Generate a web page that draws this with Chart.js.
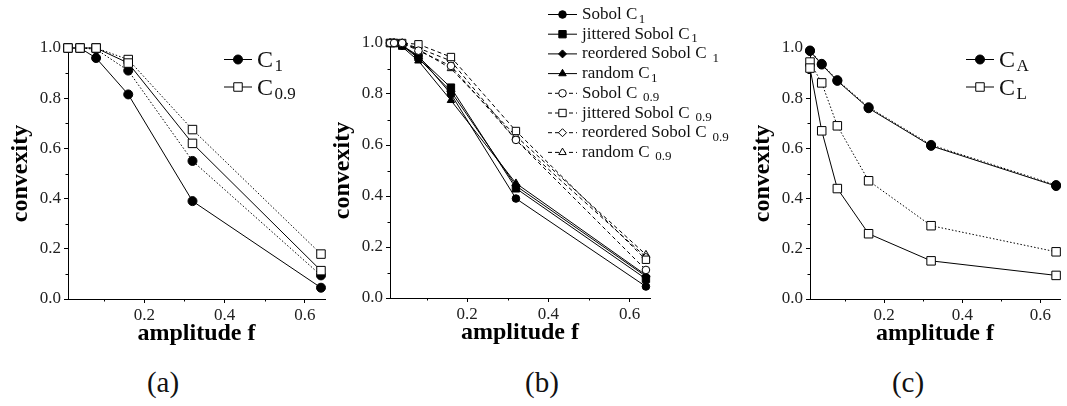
<!DOCTYPE html>
<html>
<head>
<meta charset="utf-8">
<script src="https://cdn.jsdelivr.net/npm/chart.js@4.4.0/dist/chart.umd.min.js"></script>
<style>
  body { margin: 0; background: #fff; }
  #wrap { position: relative; width: 1067px; height: 406px; overflow: hidden; background: #fff; }
  #wrap canvas { position: absolute; top: 0; }
  .tag { position: absolute; top: 364px; width: 80px; text-align: center; font-family: "Liberation Serif", serif; font-size: 29px; line-height: 36px; color: #111; }
</style>
</head>
<body>
<div id="wrap">
  <canvas id="chartA" width="360" height="350" style="left:0px"></canvas>
  <canvas id="chartB" width="420" height="350" style="left:320px"></canvas>
  <canvas id="chartC" width="327" height="350" style="left:740px"></canvas>
  <div class="tag" style="left:123px">(a)</div>
  <div class="tag" style="left:502px">(b)</div>
  <div class="tag" style="left:868px">(c)</div>
</div>
<script>
// amplitudes f
var fA = [0.01, 0.04, 0.08, 0.16, 0.32, 0.64];
var fB = [0.01, 0.02, 0.04, 0.08, 0.16, 0.32, 0.64];
var fC = [0.01, 0.04, 0.08, 0.16, 0.32, 0.64];

// (a) convexity, two runs (solid / dotted)
var aC1Solid = [1.0, 1.0, 0.96, 0.815, 0.39, 0.045];
var aC1Dotted = [1.0, 1.0, 0.995, 0.91, 0.55, 0.094];
var aC09Solid = [1.0, 1.0, 1.0, 0.94, 0.62, 0.113];
var aC09Dotted = [1.0, 1.0, 1.0, 0.954, 0.675, 0.179];

// (b) point sets
var bSobolC1 = [1.0, 1.0, 0.99, 0.95, 0.80, 0.39, 0.045];
var bJitterC1 = [1.0, 1.0, 0.99, 0.945, 0.825, 0.43, 0.075];
var bReordC1 = [1.0, 1.0, 0.99, 0.94, 0.81, 0.44, 0.085];
var bRandomC1 = [1.0, 1.0, 0.985, 0.93, 0.775, 0.45, 0.09];
var bSobolC09 = [1.0, 1.0, 1.0, 0.97, 0.91, 0.62, 0.11];
var bJitterC09 = [1.0, 1.0, 1.0, 0.995, 0.945, 0.655, 0.15];
var bReordC09 = [1.0, 1.0, 1.0, 0.98, 0.93, 0.62, 0.16];
var bRandomC09 = [1.0, 1.0, 1.0, 0.975, 0.90, 0.635, 0.17];

// (c)
var cCASolid = [0.988, 0.934, 0.869, 0.760, 0.610, 0.450];
var cCADotted = [0.99, 0.937, 0.872, 0.764, 0.614, 0.454];
var cCLSolid = [0.92, 0.67, 0.44, 0.26, 0.152, 0.094];
var cCLDotted = [0.944, 0.861, 0.69, 0.471, 0.292, 0.188];

var legendA = [["C", "1"], ["C", "0.9"]];
var legendB = [["Sobol C", "1"], ["jittered Sobol C", "1"], ["reordered Sobol C ", "1"], ["random C", "1"],
               ["Sobol C ", "0.9"], ["jittered Sobol C ", "0.9"], ["reordered Sobol C ", "0.9"], ["random C ", "0.9"]];
var legendC = [["C", "A"], ["C", "L"]];

var SERIF = "'Liberation Serif', 'Times New Roman', serif";
var DOT = [1.5, 2];
var DASH = [4, 3];

function pts(xs, ys) {
    return xs.map(function (x, i) { return { x: x, y: ys[i] }; });
}

function series(xs, ys, style, filled, r, dash) {
    return {
        data: pts(xs, ys),
        borderColor: "#000",
        borderWidth: 1,
        borderDash: dash || [],
        pointStyle: style,
        pointRadius: r,
        pointBorderWidth: 1,
        pointBorderColor: "#000",
        pointBackgroundColor: filled ? "#000" : "#fff",
        tension: 0,
        clip: false
    };
}

// minor ticks (0.1 steps) + custom legend with subscripts
var sketchPlugin = {
    id: "sketch",
    afterDraw: function (chart, args, opts) {
        var ctx = chart.ctx, xs = chart.scales.x, ys = chart.scales.y;
        ctx.save();
        ctx.strokeStyle = "#000";
        ctx.lineWidth = 1;
        ctx.beginPath();
        [0.1, 0.3, 0.5].forEach(function (v) {
            var px = Math.round(xs.getPixelForValue(v)) + 0.5;
            ctx.moveTo(px, xs.top); ctx.lineTo(px, xs.top + 2.5);
        });
        [0.1, 0.3, 0.5, 0.7, 0.9].forEach(function (v) {
            var py = Math.round(ys.getPixelForValue(v)) + 0.5;
            ctx.moveTo(ys.right, py); ctx.lineTo(ys.right - 2.5, py);
        });
        ctx.stroke();

        var L = opts.legend;
        L.items.forEach(function (it, i) {
            var y = L.y + i * L.row;
            ctx.strokeStyle = "#000";
            ctx.setLineDash(it.dash || []);
            ctx.beginPath();
            ctx.moveTo(L.x, y + 0.5); ctx.lineTo(L.x + L.len, y + 0.5);
            ctx.stroke();
            ctx.setLineDash([]);
            ctx.fillStyle = it.filled ? "#000" : "#fff";
            Chart.helpers.drawPoint(ctx, { pointStyle: it.style, radius: it.r, borderWidth: 1, rotation: 0 }, L.x + L.len / 2, y + 0.5);
            ctx.fillStyle = "#111";
            ctx.textBaseline = "alphabetic";
            ctx.font = L.size + "px " + SERIF;
            var tx = L.x + L.len + L.gap;
            ctx.fillText(it.label[0], tx, y + L.base);
            var w = ctx.measureText(it.label[0]).width;
            ctx.font = L.subSize + "px " + SERIF;
            ctx.fillText(it.label[1], tx + w + 1.5, y + L.base + L.subDrop);
        });
        ctx.restore();
    }
};

function makeChart(id, datasets, pad, yWidth, yTitlePad, legend) {
    return new Chart(document.getElementById(id), {
        type: "line",
        data: { datasets: datasets },
        plugins: [sketchPlugin],
        options: {
            responsive: false,
            animation: false,
            devicePixelRatio: 1,
            layout: { padding: pad },
            plugins: {
                legend: { display: false },
                tooltip: { enabled: false },
                sketch: { legend: legend }
            },
            scales: {
                x: {
                    type: "linear",
                    min: 0.01,
                    max: 0.65,
                    afterFit: function (s) { s.height = 47; },
                    border: { color: "#000", width: 1 },
                    grid: { drawOnChartArea: false, tickLength: 4, tickColor: "#000" },
                    ticks: {
                        stepSize: 0.2,
                        includeBounds: false,
                        padding: 2,
                        color: "#222",
                        font: { family: SERIF, size: 17 },
                        callback: function (v) { return v.toFixed(1); }
                    },
                    title: {
                        display: true,
                        text: "amplitude f",
                        color: "#000",
                        padding: 0,
                        font: { family: SERIF, size: 24, weight: "bold", lineHeight: 1 }
                    }
                },
                y: {
                    min: 0,
                    max: 1,
                    afterFit: function (s) { s.width = yWidth; },
                    border: { color: "#000", width: 1 },
                    grid: { drawOnChartArea: false, tickLength: 4, tickColor: "#000" },
                    ticks: {
                        stepSize: 0.2,
                        padding: 3,
                        color: "#222",
                        font: { family: SERIF, size: 17 },
                        callback: function (v) { return v.toFixed(1); }
                    },
                    title: {
                        display: true,
                        text: "convexity",
                        color: "#000",
                        padding: { top: yTitlePad, bottom: 0 },
                        font: { family: SERIF, size: 24, weight: "bold", lineHeight: 1 }
                    }
                }
            }
        }
    });
}

makeChart("chartA", [
    series(fA, aC09Solid, "rect", false, 6),
    series(fA, aC09Dotted, "rect", false, 6, DOT),
    series(fA, aC1Solid, "circle", true, 4.5),
    series(fA, aC1Dotted, "circle", true, 4.5, DOT)
], { top: 48, right: 35, bottom: 4, left: 0 }, 68, 9, {
    x: 224, y: 59, row: 27.5, len: 28, gap: 5, size: 24, subSize: 17, base: 8, subDrop: 4,
    items: [
        { label: legendA[0], style: "circle", filled: true, r: 4.5 },
        { label: legendA[1], style: "rect", filled: false, r: 6 }
    ]
});

makeChart("chartB", [
    series(fB, bSobolC09, "circle", false, 3.8, DASH),
    series(fB, bJitterC09, "rect", false, 5.2, DASH),
    series(fB, bReordC09, "rectRot", false, 4, DASH),
    series(fB, bRandomC09, "triangle", false, 4.3, DASH),
    series(fB, bSobolC1, "circle", true, 3.8),
    series(fB, bJitterC1, "rect", true, 5.2),
    series(fB, bReordC1, "rectRot", true, 4),
    series(fB, bRandomC1, "triangle", true, 4.3)
], { top: 43, right: 90, bottom: 5, left: 0 }, 70, 11, {
    x: 228, y: 14, row: 19.7, len: 29, gap: 5, size: 17, subSize: 13, base: 5, subDrop: 3.5,
    items: [
        { label: legendB[0], style: "circle", filled: true, r: 3.8 },
        { label: legendB[1], style: "rect", filled: true, r: 5.2 },
        { label: legendB[2], style: "rectRot", filled: true, r: 4 },
        { label: legendB[3], style: "triangle", filled: true, r: 4.3 },
        { label: legendB[4], style: "circle", filled: false, r: 3.8, dash: DASH },
        { label: legendB[5], style: "rect", filled: false, r: 5.2, dash: DASH },
        { label: legendB[6], style: "rectRot", filled: false, r: 4, dash: DASH },
        { label: legendB[7], style: "triangle", filled: false, r: 4.3, dash: DASH }
    ]
});

makeChart("chartC", [
    series(fC, cCLSolid, "rect", false, 6),
    series(fC, cCLDotted, "rect", false, 6, DOT),
    series(fC, cCADotted, "circle", true, 4.5, DOT),
    series(fC, cCASolid, "circle", true, 4.5)
], { top: 48, right: 1, bottom: 4, left: 0 }, 70, 11, {
    x: 226, y: 59, row: 27.5, len: 28, gap: 5, size: 24, subSize: 17, base: 8, subDrop: 4,
    items: [
        { label: legendC[0], style: "circle", filled: true, r: 4.5 },
        { label: legendC[1], style: "rect", filled: false, r: 6 }
    ]
});
</script>
</body>
</html>
